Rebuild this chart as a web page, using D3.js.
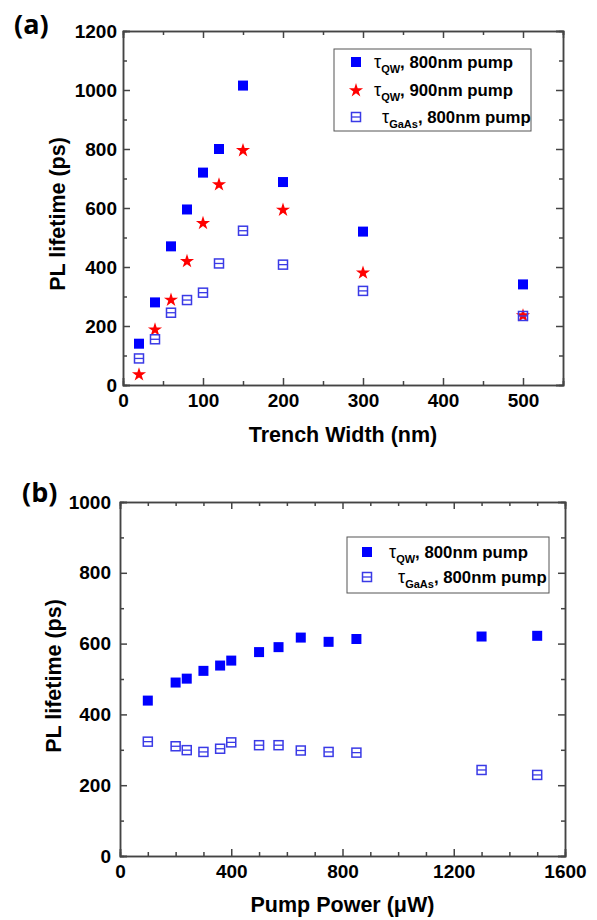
<!DOCTYPE html>
<html>
<head>
<meta charset="utf-8">
<script src="https://cdn.jsdelivr.net/npm/d3@7"></script>
<style>
  body { margin: 0; background: #fff; }
  svg { display: block; font-family: "Liberation Sans", Arial, sans-serif; }
  .tick text { font-size: 19px; font-weight: bold; fill: #000; }
  .axis path, .axis line { stroke: #444; stroke-width: 1.5; }
  .label { font-size: 21.5px; font-weight: bold; }
  .panel { font-family: "Open Sans", sans-serif; font-size: 27px; font-weight: bold; }
  .legend-text { font-size: 16.8px; font-weight: bold; }
</style>
</head>
<body>
<svg id="svg1" width="597" height="920"></svg>
<script>
// panel (a): lifetime vs trench width
var trenchWidth = [20, 40, 60, 80, 100, 120, 150, 200, 300, 500];
var qw800A  = [140, 280, 470, 595, 720, 800, 1015, 688, 520, 341];
var qw900A  = [37, 189, 290, 421, 550, 681, 797, 595, 382, 237];
var gaas800A = [90, 155, 245, 288, 313, 412, 523, 408, 319, 234];

// panel (b): lifetime vs pump power
var pumpPower = [100, 200, 240, 300, 360, 400, 500, 570, 650, 750, 850, 1300, 1500];
var qw800B   = [439, 490, 501, 523, 538, 552, 576, 590, 617, 605, 613, 620, 622];
var gaas800B = [323, 310, 299, 294, 303, 321, 313, 313, 298, 294, 292, 243, 229];

var ticksA = { x: [0, 100, 200, 300, 400, 500], y: [0, 200, 400, 600, 800, 1000, 1200] };
var ticksB = { x: [0, 400, 800, 1200, 1600], y: [0, 200, 400, 600, 800, 1000] };

var blue = "#0000ff";
var openBlue = "#3a3ae6";
var red = "#ff0000";

var svg = d3.select("#svg1");

function translate(x, y) {
  return "translate(" + x + "," + y + ")";
}

function zip(xs, ys) {
  return xs.map(function(x, i) { return { x: x, y: ys[i] }; });
}

var panels = [
  {
    id: "a", letter: "(a)", letterPos: [14, 34],
    plot: { left: 123, right: 563, top: 31, bottom: 385 },
    xDomain: [0, 550], yDomain: [0, 1200],
    xTicks: ticksA.x, xMinor: d3.range(50, 551, 100),
    yTicks: ticksA.y, yMinor: d3.range(100, 1200, 200),
    yPad: 6, xTitle: "Trench Width (nm)", xTitleY: 442,
    yTitleX: 57, yTitleY: 214,
    series: [
      { kind: "filled", data: zip(trenchWidth, qw800A) },
      { kind: "star", data: zip(trenchWidth, qw900A) },
      { kind: "open", data: zip(trenchWidth, gaas800A) }
    ],
    legend: {
      box: [334, 49, 197, 82], markX: 356,
      rows: [
        { kind: "filled", y: 62, sub: "QW", tx: 374, text: ", 800nm pump" },
        { kind: "star", y: 90, sub: "QW", tx: 374, text: ", 900nm pump" },
        { kind: "open", y: 117, sub: "GaAs", tx: 382, text: ", 800nm pump" }
      ]
    }
  },
  {
    id: "b", letter: "(b)", letterPos: [22, 502],
    plot: { left: 120, right: 565, top: 502, bottom: 856 },
    xDomain: [0, 1600], yDomain: [0, 1000],
    xTicks: ticksB.x, xMinor: d3.range(100, 1600, 100).filter(function(d) { return d % 400 != 0; }),
    yTicks: ticksB.y, yMinor: d3.range(100, 1000, 200),
    yPad: 9, xTitle: "Pump Power (\u03bcW)", xTitleY: 912,
    yTitleX: 53, yTitleY: 676,
    series: [
      { kind: "filled", data: zip(pumpPower, qw800B) },
      { kind: "open", data: zip(pumpPower, gaas800B) }
    ],
    legend: {
      box: [347, 537, 202, 56], markX: 367,
      rows: [
        { kind: "filled", y: 552, sub: "QW", tx: 389, text: ", 800nm pump" },
        { kind: "open", y: 577, sub: "GaAs", tx: 398, text: ", 800nm pump" }
      ]
    }
  }
];

// draws one marker of the given kind centred on (cx, cy)
function drawMarker(g, kind, cx, cy) {
  if (kind == "filled") {
    g.append("rect")
      .attr("x", cx - 5).attr("y", cy - 5)
      .attr("width", 10).attr("height", 10)
      .style("fill", blue);
  } else if (kind == "star") {
    g.append("path")
      .attr("d", d3.symbol(d3.symbolStar, 62)())
      .attr("transform", translate(cx, cy + 0.5))
      .style("fill", red);
  } else {
    g.append("rect")
      .attr("x", cx - 4.5).attr("y", cy - 4.5)
      .attr("width", 9).attr("height", 9)
      .style("fill", "none")
      .style("stroke", openBlue)
      .style("stroke-width", 1.5);
    g.append("line")
      .attr("x1", cx - 4.5).attr("x2", cx + 4.5)
      .attr("y1", cy).attr("y2", cy)
      .style("stroke", openBlue)
      .style("stroke-width", 1.3);
  }
}

function createPanel(p) {
  var x = d3.scaleLinear().domain(p.xDomain).range([p.plot.left, p.plot.right]);
  var y = d3.scaleLinear().domain(p.yDomain).range([p.plot.bottom, p.plot.top]);

  var g = svg.append("g").attr("id", "panel-" + p.id);

  // minor ticks first, all four sides, pointing inward
  g.append("g").attr("class", "axis")
    .attr("transform", translate(0, p.plot.bottom))
    .call(d3.axisBottom(x).tickValues(p.xMinor).tickSize(-4).tickFormat(""));
  g.append("g").attr("class", "axis")
    .attr("transform", translate(0, p.plot.top))
    .call(d3.axisTop(x).tickValues(p.xMinor).tickSize(-4).tickFormat(""));
  g.append("g").attr("class", "axis")
    .attr("transform", translate(p.plot.left, 0))
    .call(d3.axisLeft(y).tickValues(p.yMinor).tickSize(-4).tickFormat(""));
  g.append("g").attr("class", "axis")
    .attr("transform", translate(p.plot.right, 0))
    .call(d3.axisRight(y).tickValues(p.yMinor).tickSize(-4).tickFormat(""));

  // major ticks with labels
  g.append("g").attr("class", "axis")
    .attr("transform", translate(0, p.plot.bottom))
    .call(d3.axisBottom(x).tickValues(p.xTicks).tickSize(-7).tickPadding(9).tickFormat(d3.format("d")));
  g.append("g").attr("class", "axis")
    .attr("transform", translate(0, p.plot.top))
    .call(d3.axisTop(x).tickValues(p.xTicks).tickSize(-7).tickFormat(""));
  g.append("g").attr("class", "axis")
    .attr("transform", translate(p.plot.left, 0))
    .call(d3.axisLeft(y).tickValues(p.yTicks).tickSize(-7).tickPadding(p.yPad).tickFormat(d3.format("d")));
  g.append("g").attr("class", "axis")
    .attr("transform", translate(p.plot.right, 0))
    .call(d3.axisRight(y).tickValues(p.yTicks).tickSize(-7).tickFormat(""));

  g.selectAll(".tick text").style("font-family", "'Liberation Sans', Arial, sans-serif");

  // axis titles
  g.append("text")
    .attr("class", "label")
    .attr("text-anchor", "middle")
    .attr("x", (p.plot.left + p.plot.right) / 2)
    .attr("y", p.xTitleY)
    .text(p.xTitle);

  g.append("text")
    .attr("class", "label")
    .attr("text-anchor", "middle")
    .attr("dy", "0.35em")
    .attr("transform", translate(p.yTitleX, p.yTitleY) + " rotate(-90)")
    .text("PL lifetime (ps)");

  g.append("text")
    .attr("class", "panel")
    .attr("x", p.letterPos[0])
    .attr("y", p.letterPos[1])
    .text(p.letter);

  // data points
  var marks = g.append("g").attr("class", "marks");
  p.series.forEach(function(s) {
    s.data.forEach(function(d) {
      drawMarker(marks, s.kind, x(d.x), y(d.y));
    });
  });

  // legend
  var lg = g.append("g").attr("class", "legend");
  lg.append("rect")
    .attr("x", p.legend.box[0]).attr("y", p.legend.box[1])
    .attr("width", p.legend.box[2]).attr("height", p.legend.box[3])
    .style("fill", "#fff")
    .style("stroke", "#555")
    .style("stroke-width", 1);

  p.legend.rows.forEach(function(r) {
    drawMarker(lg, r.kind, p.legend.markX, r.y);
    var t = lg.append("text")
      .attr("class", "legend-text")
      .attr("x", r.tx)
      .attr("y", r.y + 6);
    t.append("tspan").style("font-weight", "normal").style("font-size", "18px").text("\u03c4");
    t.append("tspan").attr("dy", 5).style("font-size", "11px").text(r.sub);
    t.append("tspan").attr("dy", -5).text(r.text);
  });
}

panels.forEach(createPanel);
</script>
</body>
</html>
